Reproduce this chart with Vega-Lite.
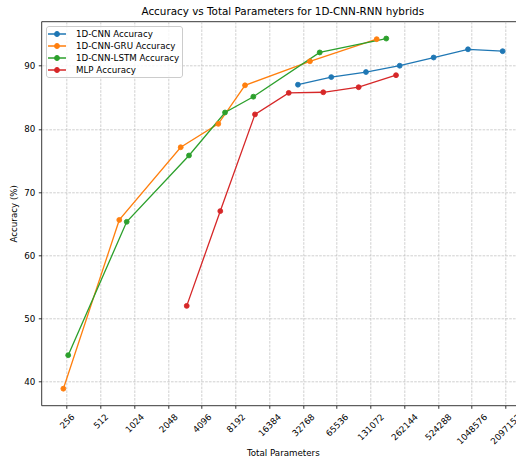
{
  "$schema": "https://vega.github.io/schema/vega-lite/v6.json",
  "width": 483,
  "height": 384,
  "autosize": {"type": "none"},
  "padding": {"left": 41.3, "top": 21.3, "right": 0, "bottom": 53.7},
  "background": "white",
  "title": {
    "text": "Accuracy vs Total Parameters for 1D-CNN-RNN hybrids",
    "fontSize": 10.4,
    "fontWeight": "normal",
    "color": "#000",
    "anchor": "middle",
    "frame": "group",
    "offset": 4
  },
  "data": {
    "values": [
      {"model": "1D-CNN Accuracy", "params": 29600, "acc": 87.0},
      {"model": "1D-CNN Accuracy", "params": 58700, "acc": 88.2},
      {"model": "1D-CNN Accuracy", "params": 119800, "acc": 89.0},
      {"model": "1D-CNN Accuracy", "params": 239600, "acc": 90.0},
      {"model": "1D-CNN Accuracy", "params": 481000, "acc": 91.3},
      {"model": "1D-CNN Accuracy", "params": 974000, "acc": 92.6},
      {"model": "1D-CNN Accuracy", "params": 1985000, "acc": 92.3},
      {"model": "1D-CNN-GRU Accuracy", "params": 239, "acc": 38.9},
      {"model": "1D-CNN-GRU Accuracy", "params": 754, "acc": 65.6},
      {"model": "1D-CNN-GRU Accuracy", "params": 2663, "acc": 77.1},
      {"model": "1D-CNN-GRU Accuracy", "params": 5765, "acc": 80.8},
      {"model": "1D-CNN-GRU Accuracy", "params": 9980, "acc": 86.9},
      {"model": "1D-CNN-GRU Accuracy", "params": 37900, "acc": 90.7},
      {"model": "1D-CNN-GRU Accuracy", "params": 149300, "acc": 94.2},
      {"model": "1D-CNN-LSTM Accuracy", "params": 264, "acc": 44.2},
      {"model": "1D-CNN-LSTM Accuracy", "params": 878, "acc": 65.3},
      {"model": "1D-CNN-LSTM Accuracy", "params": 3158, "acc": 75.8},
      {"model": "1D-CNN-LSTM Accuracy", "params": 6617, "acc": 82.6},
      {"model": "1D-CNN-LSTM Accuracy", "params": 11840, "acc": 85.1},
      {"model": "1D-CNN-LSTM Accuracy", "params": 46300, "acc": 92.1},
      {"model": "1D-CNN-LSTM Accuracy", "params": 181700, "acc": 94.3},
      {"model": "MLP Accuracy", "params": 3013, "acc": 52.0},
      {"model": "MLP Accuracy", "params": 6006, "acc": 67.0},
      {"model": "MLP Accuracy", "params": 12250, "acc": 82.3},
      {"model": "MLP Accuracy", "params": 24500, "acc": 85.7},
      {"model": "MLP Accuracy", "params": 49800, "acc": 85.8},
      {"model": "MLP Accuracy", "params": 103000, "acc": 86.6},
      {"model": "MLP Accuracy", "params": 222000, "acc": 88.5}
    ]
  },
  "encoding": {
    "x": {
      "field": "params",
      "type": "quantitative",
      "scale": {"type": "log", "base": 2, "domain": [151.9, 3097000], "nice": false},
      "axis": {
        "title": "Total Parameters",
        "values": [256, 512, 1024, 2048, 4096, 8192, 16384, 32768, 65536, 131072, 262144, 524288, 1048576, 2097152],
        "format": "d",
        "labelAngle": -45,
        "labelAlign": "right",
        "labelBaseline": "middle",
        "labelOffset": {"expr": "length(datum.label) * 1.956"},
        "labelPadding": 6.6,
        "labelFlush": false,
        "labelOverlap": false,
        "labelBound": false,
        "titleY": 47,
        "titleBaseline": "middle"
      }
    },
    "y": {
      "field": "acc",
      "type": "quantitative",
      "scale": {"domain": [36.27, 97.03], "nice": false, "zero": false},
      "axis": {
        "title": "Accuracy (%)",
        "values": [40, 50, 60, 70, 80, 90],
        "labelPadding": 3.5,
        "titleX": -27.3,
        "titleY": 192,
        "titleAngle": 270,
        "titleBaseline": "middle"
      }
    }
  },
  "layer": [
    {
      "mark": {"type": "line", "strokeWidth": 1.3},
      "encoding": {
        "stroke": {
          "field": "model",
          "type": "nominal",
          "scale": {
            "domain": ["1D-CNN Accuracy", "1D-CNN-GRU Accuracy", "1D-CNN-LSTM Accuracy", "MLP Accuracy"],
            "range": ["#1f77b4", "#ff7f0e", "#2ca02c", "#d62728"]
          },
          "legend": {"title": null, "orient": "none", "legendX": 4.7, "legendY": 4.7}
        }
      }
    },
    {
      "mark": {"type": "point", "filled": true, "size": 24, "opacity": 1, "strokeWidth": 0.9},
      "encoding": {
        "fill": {
          "field": "model",
          "type": "nominal",
          "scale": {
            "domain": ["1D-CNN Accuracy", "1D-CNN-GRU Accuracy", "1D-CNN-LSTM Accuracy", "MLP Accuracy"],
            "range": ["#1f77b4", "#ff7f0e", "#2ca02c", "#d62728"]
          },
          "legend": {"title": null, "orient": "none", "legendX": 4.7, "legendY": 4.7}
        },
        "stroke": {"field": "model", "type": "nominal"}
      }
    }
  ],
  "config": {
    "font": "DejaVu Sans",
    "view": {"stroke": "#222", "strokeWidth": 0.9},
    "axis": {
      "domain": false,
      "grid": true,
      "gridColor": "#bbbbbb",
      "gridDash": [2.6, 1.2],
      "gridWidth": 0.7,
      "tickSize": 3,
      "tickWidth": 0.8,
      "tickColor": "#000",
      "labelFontSize": 8.7,
      "labelColor": "#000",
      "titleFontSize": 8.7,
      "titleFontWeight": "normal",
      "titleColor": "#000"
    },
    "legend": {
      "symbolType": "M-1.8,0H1.8M-0.46,0A0.46,0.46,0,1,0,0.46,0A0.46,0.46,0,1,0,-0.46,0Z",
      "symbolSize": 100,
      "symbolStrokeWidth": 1.3,
      "symbolOffset": 3,
      "labelOffset": 13,
      "labelFontSize": 8.7,
      "labelColor": "#000",
      "labelLimit": 0,
      "rowPadding": 1,
      "padding": 2,
      "fillColor": "rgba(255,255,255,0.8)",
      "strokeColor": "#cccccc",
      "cornerRadius": 2.5,
      "symbolOpacity": 1
    }
  }
}
